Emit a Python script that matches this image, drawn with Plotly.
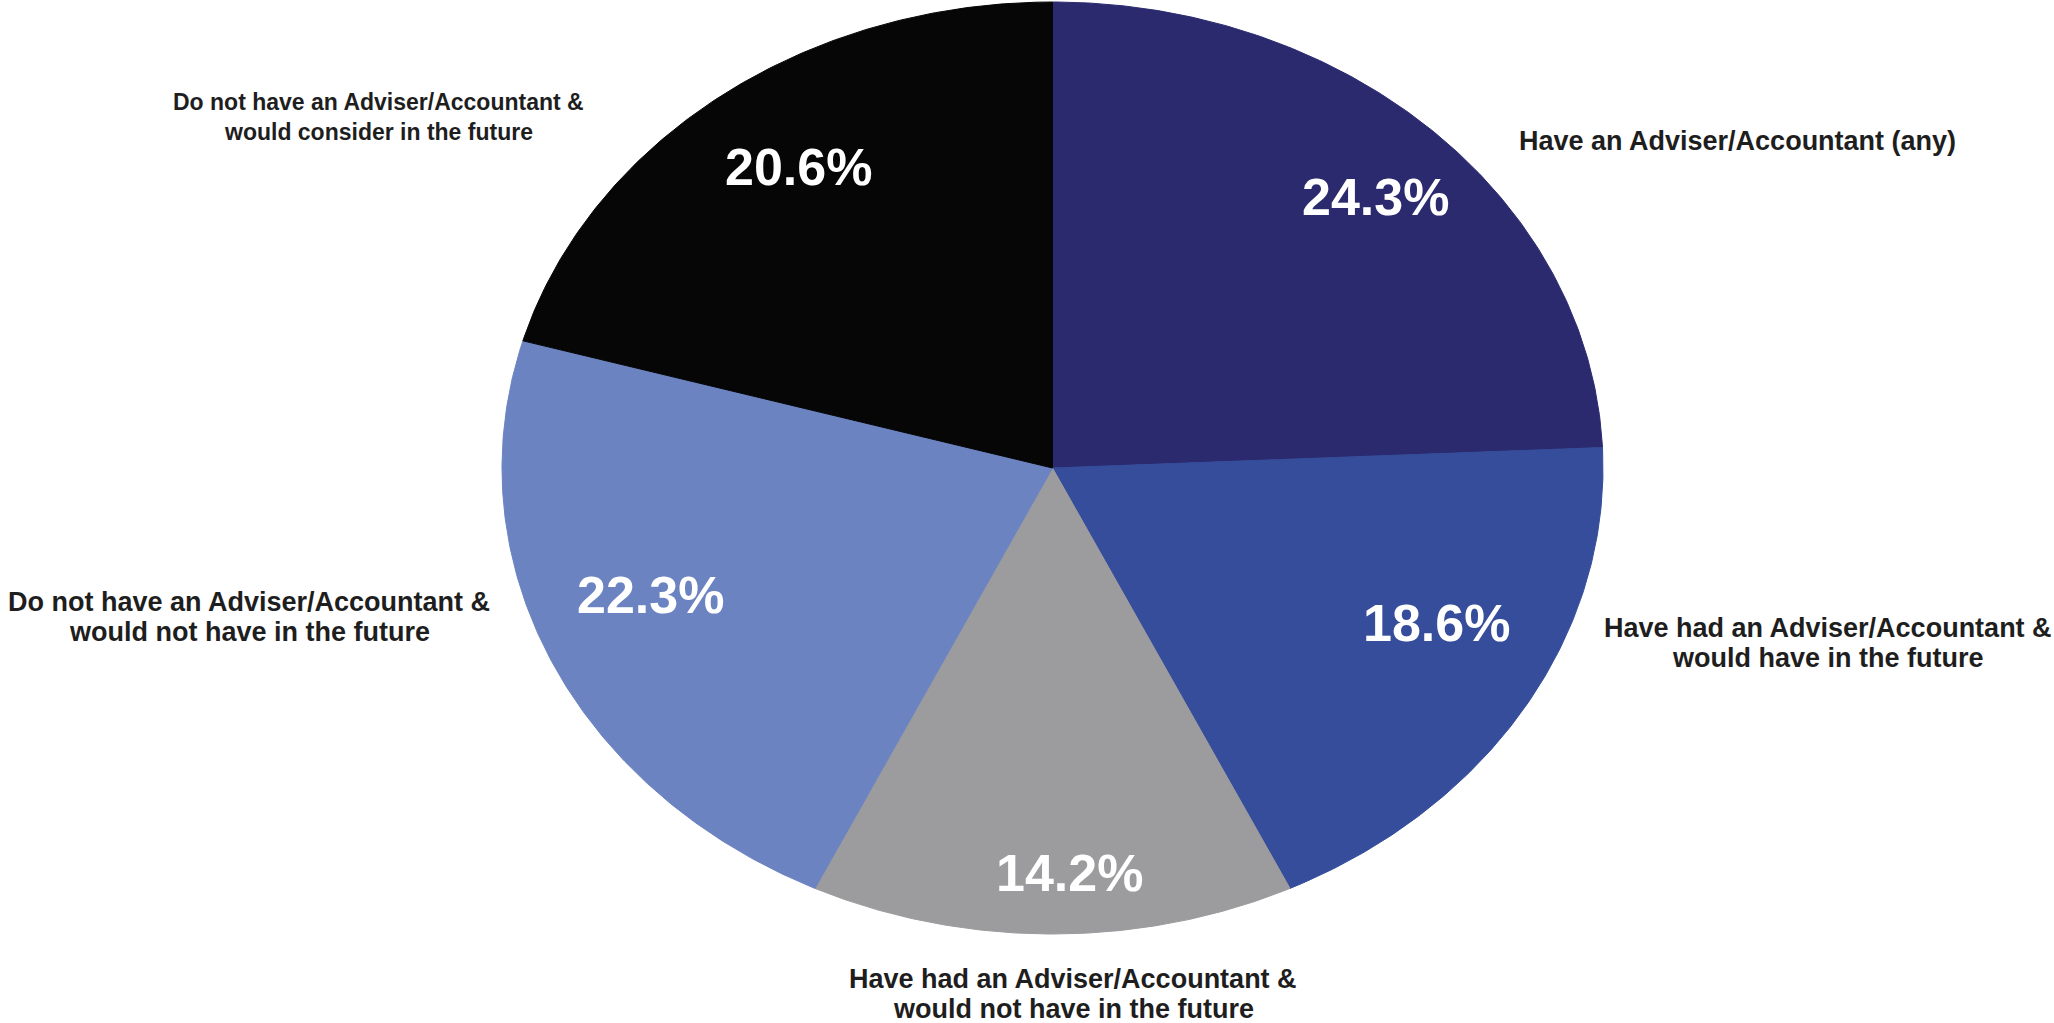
import numpy as np
import plotly.graph_objects as go

# Survey shares, clockwise from 12 o'clock
categories = [
    ["Have an Adviser/Accountant (any)"],
    ["Have had an Adviser/Accountant &", "would have in the future"],
    ["Have had an Adviser/Accountant &", "would not have in the future"],
    ["Do not have an Adviser/Accountant &", "would not have in the future"],
    ["Do not have an Adviser/Accountant &", "would consider in the future"],
]
shares = [24.3, 18.6, 14.2, 22.3, 20.6]

colors = ["#2B2A6F", "#354D9A", "#9C9B9D", "#6B83C1", "#060606"]

# Canvas and ellipse geometry (pixels)
W, H = 2054, 1023
CX, CY, RX, RY = 1052.5, 468.0, 550.5, 466.0

# Percentage label placement: radius (unit ellipse) and angular nudge (deg)
pct_radius = [0.826, 0.772, 0.870, 0.780, 0.794]
pct_nudge = [1.5, -5.5, -2.0, 3.8, 1.5]

# Category label block centres in pixels, font sizes and line pitch
cat_pos = [(1737, 141), (1828, 643), (1073, 994), (249, 617), (378, 117)]
cat_size = [27, 27, 27, 27, 23]
LINE_PITCH = 30

fig = go.Figure()

total = sum(shares)
start = 0.0
mids = []
for lines, val, col in zip(categories, shares, colors):
    frac0 = start / total
    frac1 = (start + val) / total
    n = max(int(val * 8), 20)
    theta = np.linspace(frac0 * 2 * np.pi, frac1 * 2 * np.pi, n)
    xs = np.concatenate([[0.0], np.sin(theta), [0.0]])
    ys = np.concatenate([[0.0], np.cos(theta), [0.0]])
    fig.add_trace(go.Scatter(
        x=xs, y=ys, mode="lines", fill="toself",
        fillcolor=col, line=dict(color=col, width=1),
        name=" ".join(lines), hoverinfo="name",
    ))
    mids.append((frac0 + frac1) / 2 * 360.0)
    start += val

annotations = []
for val, mid, r, d in zip(shares, mids, pct_radius, pct_nudge):
    a = np.deg2rad(mid + d)
    annotations.append(dict(
        x=r * np.sin(a), y=r * np.cos(a), xref="x", yref="y",
        text=f"{val:.1f}%", showarrow=False,
        font=dict(family="Arial, Liberation Sans, sans-serif", size=52,
                  color="white", weight="bold"),
        xanchor="center", yanchor="middle",
    ))

for lines, (px, py), fs in zip(categories, cat_pos, cat_size):
    k = len(lines)
    for i, line in enumerate(lines):
        ly = py + (i - (k - 1) / 2) * LINE_PITCH
        annotations.append(dict(
            x=px / W, y=1 - ly / H, xref="paper", yref="paper",
            text=line, showarrow=False, align="center",
            font=dict(family="Arial, Liberation Sans, sans-serif", size=fs,
                      color="#1E1E1E", weight="bold"),
            xanchor="center", yanchor="middle",
        ))

fig.update_layout(
    width=W, height=H,
    margin=dict(l=0, r=0, t=0, b=0),
    paper_bgcolor="white", plot_bgcolor="white",
    showlegend=False,
    xaxis=dict(range=[-CX / RX, (W - CX) / RX], visible=False, fixedrange=True),
    yaxis=dict(range=[-(H - CY) / RY, CY / RY], visible=False, fixedrange=True),
    annotations=annotations,
)

fig.write_html("out.html", config={"displayModeBar": False})
